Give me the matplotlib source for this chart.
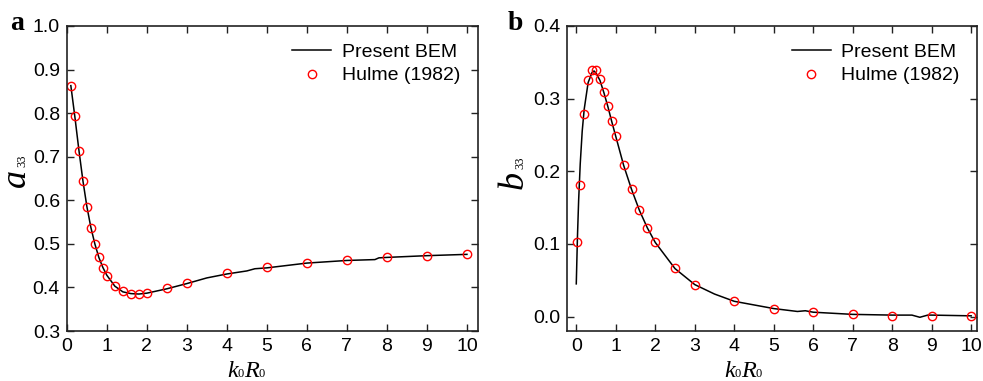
import matplotlib
matplotlib.use('Agg')
import matplotlib.pyplot as plt

plt.rcParams['font.family'] = ['Liberation Sans', 'DejaVu Sans']

# panel a: added mass
a_hulme_x = [0.1, 0.2, 0.3, 0.4, 0.5, 0.6, 0.7, 0.8, 0.9, 1.0, 1.2, 1.4, 1.6, 1.8, 2.0,
             2.5, 3, 4, 5, 6, 7, 8, 9, 10]
a_hulme_y = [0.862, 0.794, 0.714, 0.644, 0.585, 0.537, 0.499, 0.469, 0.445, 0.427, 0.403,
             0.392, 0.386, 0.386, 0.388, 0.399, 0.410, 0.433, 0.447, 0.457, 0.464, 0.469,
             0.473, 0.476]
a_bem_x = [0.1, 0.2, 0.3, 0.4, 0.5, 0.6, 0.7, 0.8, 0.9, 1.0, 1.2, 1.4, 1.6, 1.8, 2.0,
           2.5, 3, 3.5, 4, 4.5, 4.7, 5, 6, 7, 7.7, 7.8, 8, 9, 10]
a_bem_y = [0.863, 0.792, 0.716, 0.646, 0.586, 0.538, 0.500, 0.469, 0.446, 0.428, 0.403,
           0.390, 0.386, 0.385, 0.387, 0.397, 0.409, 0.422, 0.431, 0.438, 0.443, 0.445,
           0.456, 0.462, 0.464, 0.468, 0.469, 0.473, 0.476]

# panel b: damping
b_hulme_x = [0.03, 0.1, 0.2, 0.3, 0.4, 0.5, 0.6, 0.7, 0.8, 0.9, 1.0, 1.2, 1.4, 1.6, 1.8,
             2.0, 2.5, 3, 4, 5, 6, 7, 8, 9, 10]
b_hulme_y = [0.103, 0.181, 0.279, 0.325, 0.340, 0.339, 0.327, 0.309, 0.290, 0.269, 0.248,
             0.209, 0.175, 0.146, 0.122, 0.102, 0.067, 0.044, 0.021, 0.011, 0.006, 0.003,
             0.001, 0.001, 0.001]
b_bem_x = [0.0, 0.03, 0.06, 0.1, 0.15, 0.2, 0.3, 0.4, 0.45, 0.5, 0.6, 0.7, 0.8, 0.9, 1.0,
           1.2, 1.4, 1.6, 1.8, 2.0, 2.5, 3, 3.5, 4, 5, 5.6, 5.8, 6, 7, 8, 8.5, 8.7, 8.9, 9, 10]
b_bem_y = [0.045, 0.11, 0.16, 0.21, 0.255, 0.285, 0.322, 0.336, 0.338, 0.335, 0.325, 0.308,
           0.289, 0.268, 0.248, 0.208, 0.175, 0.146, 0.122, 0.102, 0.066, 0.044, 0.031,
           0.021, 0.011, 0.007, 0.008, 0.006, 0.003, 0.002, 0.002, -0.001, 0.002, 0.002, 0.001]

W, H = 983, 381
fig = plt.figure(figsize=(W / 100, H / 100), dpi=100)
ax1 = fig.add_axes([0.068, 0.131, 0.418, 0.801])
ax2 = fig.add_axes([0.577, 0.131, 0.417, 0.801])
rend = fig.canvas.get_renderer()


def style(ax):
    ax.tick_params(direction='in', top=True, right=True, labelsize=14, pad=5,
                   length=5, width=1, color='#222222')
    for s in ax.spines.values():
        s.set_linewidth(1.2)
        s.set_color('#222222')
    ax.set_xticks(range(0, 11))
    ax.legend(frameon=False, loc='upper right', fontsize=14, handlelength=2.0,
              handletextpad=0.55, labelspacing=0.3, borderaxespad=0.5)


def ylab(x, y, main, sub):
    # rotated label with a very small subscript, positioned in pixels
    fig.text(x / W, 1 - y / H, main, rotation=90, rotation_mode='anchor',
             ha='center', va='baseline', fontsize=26, style='italic',
             family='Liberation Serif')
    fig.text(x / W, 1 - (y - 17) / H, sub, rotation=90, rotation_mode='anchor',
             ha='center', va='baseline', fontsize=9, family='Liberation Serif')


def xlab(x, y):
    # k0R0 with small subscripts sitting on the baseline
    parts = [('k', 17.5, 'italic'), ('0', 9, 'normal'), ('R', 17.5, 'italic'), ('0', 9, 'normal')]
    for s, size, st in parts:
        t = fig.text(x / W, 1 - y / H, s, fontsize=size, style=st,
                     family='Liberation Serif', va='baseline')
        x += t.get_window_extent(rend).width


ax1.plot(a_bem_x, a_bem_y, color='black', lw=1.1, label='Present BEM')
ax1.plot(a_hulme_x, a_hulme_y, 'o', mfc='none', mec='red', ms=6, mew=1.0,
         label='Hulme (1982)')
ax1.set_xlim(0, 10.27)
ax1.set_ylim(0.3, 1.0)
ax1.set_yticks([0.3, 0.4, 0.5, 0.6, 0.7, 0.8, 0.9, 1.0])
style(ax1)

ax2.plot(b_bem_x, b_bem_y, color='black', lw=1.1, label='Present BEM')
ax2.plot(b_hulme_x, b_hulme_y, 'o', mfc='none', mec='red', ms=6, mew=1.0,
         label='Hulme (1982)')
ax2.set_xlim(-0.23, 10.15)
ax2.set_ylim(-0.02, 0.4)
ax2.set_yticks([0.0, 0.1, 0.2, 0.3, 0.4])
style(ax2)

ylab(25, 178, 'a', '33')
ylab(523, 180, 'b', '33')
xlab(227, 377)
xlab(724, 377)

fig.text(10 / W, 1 - 30 / H, 'a', fontsize=20, fontweight='bold',
         family='Liberation Serif', va='baseline')
fig.text(508 / W, 1 - 30 / H, 'b', fontsize=20, fontweight='bold',
         family='Liberation Serif', va='baseline')

fig.savefig('out.png', dpi=100)
